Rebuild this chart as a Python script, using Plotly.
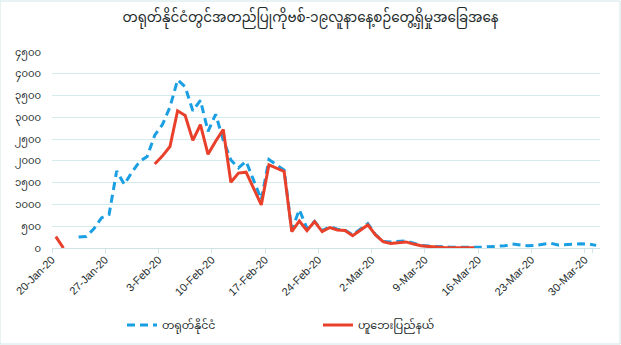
import pandas as pd
import plotly.graph_objects as go

dates = pd.date_range("2020-01-20", "2020-03-31", freq="D")
categories = [f"{d.day}-{d.strftime('%b')}-20" for d in dates]

china = [None, None, None, 250, 265, 440, 690, 770, 1770, 1460, 1740, 1980,
         2100, 2590, 2830, 3235, 3860, 3700, 3150, 3390, 2680, 3070, 2480, 2020,
         1840, 1990, 1550, 1110, 2030, 1900, 1790, 410, 880, 450, 610, 400, 490,
         430, 410, 300, 420,
         560, 310, 150, 140, 150, 160, 110, 60, 45, 30, 25, 20, 15, 15, 18, 20,
         25, 30, 50, 90, 70, 50, 60, 80, 110, 70, 80, 100, 95, 90, 60]
hubei = [260, 0, None, None, None, None, None, None, None, None, None, None,
         None, 1930, 2110, 2330, 3150, 3040, 2470, 2830, 2150, 2450, 2720, 1510,
         1720, 1740, 1350, 990, 1910, 1830, 1757, 375, 620, 400, 605, 375, 470,
         414, 400, 283, 410,
         530, 300, 145, 105, 120, 140, 90, 50, 35, 20, 12, 8, 5, 4, 3,
         None, None, None, None, None, None, None, None, None, None, None, None,
         None, None, None, None]

title_text = "တရုတ်နိုင်ငံတွင်အတည်ပြုကိုဗစ်-၁၉လူနာနေ့စဉ်တွေ့ရှိမှုအခြေအနေ"
name_china = "တရုတ်နိုင်ငံ"
name_hubei = "ဟူဘေးပြည်နယ်"
y_ticks = [0, 500, 1000, 1500, 2000, 2500, 3000, 3500, 4000, 4500]
mm_digits = str.maketrans("0123456789", "၀၁၂၃၄၅၆၇၈၉")
y_labels = [str(v).translate(mm_digits) for v in y_ticks]
x_ticks = categories[::7]

FONT = "Noto Sans Myanmar, Padauk, Myanmar Text, Noto Sans, sans-serif"
TXT = "#1d2b2b"

fig = go.Figure()
fig.add_trace(go.Scatter(x=categories, y=china, mode="lines", name=name_china,
                         line=dict(color="#1a9fe3", width=3, dash="8px,5px"),
                         legend="legend"))
fig.add_trace(go.Scatter(x=categories, y=hubei, mode="lines", name=name_hubei,
                         line=dict(color="#e8402a", width=3),
                         legend="legend2"))

fig.update_layout(
    width=621, height=345,
    margin=dict(l=52, r=21, t=52, b=97),
    paper_bgcolor="white", plot_bgcolor="white",
    font=dict(family=FONT, color=TXT, size=11),
    title=dict(text=title_text, x=0.5, xanchor="center", y=0.95, yanchor="middle",
               font=dict(size=13.5, color=TXT, family=FONT)),
    showlegend=True,
    legend=dict(orientation="h", xref="container", yref="container",
                x=122/621, xanchor="left", y=1 - 325/345, yanchor="middle",
                font=dict(size=11, color=TXT), bgcolor="rgba(0,0,0,0)"),
    legend2=dict(orientation="h", xref="container", yref="container",
                 x=318/621, xanchor="left", y=1 - 325/345, yanchor="middle",
                 font=dict(size=11, color=TXT), bgcolor="rgba(0,0,0,0)"),
    shapes=[dict(type="rect", xref="paper", yref="paper", x0=-52/548, x1=1+20/548,
                 y0=-96/196, y1=1+51/196, line=dict(color="#cfe6e8", width=1))],
)
fig.update_xaxes(type="category", tickmode="array", tickvals=x_ticks, ticktext=x_ticks,
                 tickson="boundaries", tickangle=-45, ticks="outside", ticklen=4,
                 tickcolor="#cfe3e6", showline=True, linecolor="#cfe3e6", linewidth=1,
                 showgrid=False, automargin=False,
                 tickfont=dict(size=11, color=TXT, family="Liberation Sans, Arial"),
                 range=[-0.5, len(categories) - 0.5], ticklabelshift=-4)
fig.update_yaxes(range=[0, 4500], tickvals=y_ticks, ticktext=y_labels,
                 showgrid=True, gridcolor="#d4ecee", gridwidth=1, zeroline=False,
                 showline=False, ticks="", ticklabelstandoff=10, automargin=False,
                 tickfont=dict(size=10, color=TXT))

fig.write_html("out.html")
